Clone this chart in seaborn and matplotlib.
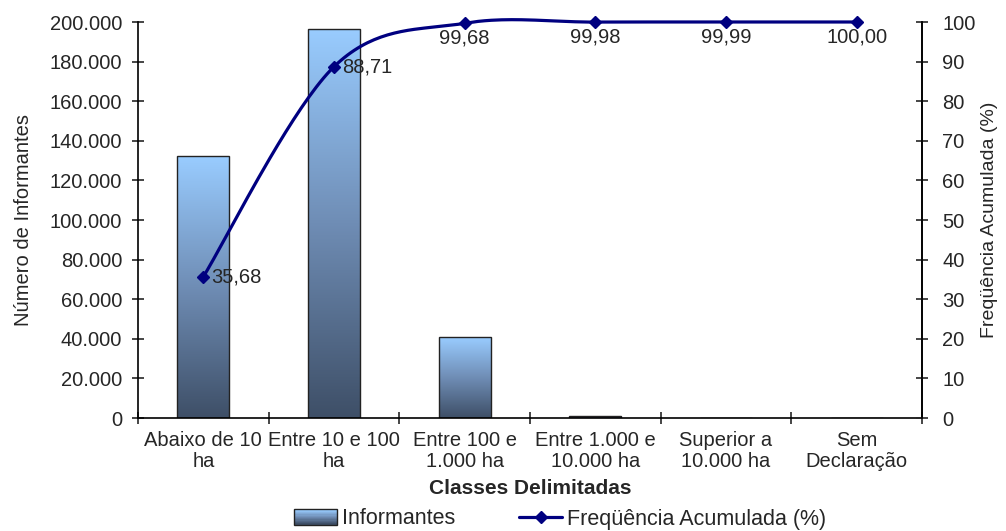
import numpy as np
import pandas as pd
import matplotlib
matplotlib.use("Agg")
import matplotlib.pyplot as plt
import matplotlib.colors as mcolors
from matplotlib.lines import Line2D
from matplotlib.patches import Patch, Rectangle
from matplotlib.legend_handler import HandlerBase
import seaborn as sns

# dados
classes = ["Abaixo de 10\nha", "Entre 10 e 100\nha", "Entre 100 e\n1.000 ha",
           "Entre 1.000 e\n10.000 ha", "Superior a\n10.000 ha", "Sem\nDeclaração"]
informantes = [132300, 196600, 40700, 1110, 37, 37]
freq_acum = [35.68, 88.71, 99.68, 99.98, 99.99, 100.00]
rotulos_freq = ["35,68", "88,71", "99,68", "99,98", "99,99", "100,00"]

sns.set_theme(style="ticks")
plt.rcParams['font.family'] = ['Liberation Sans', 'DejaVu Sans']

FS = 14.5
df = pd.DataFrame({"classe": classes, "informantes": informantes})
cmap = mcolors.LinearSegmentedColormap.from_list("grad", ["#3E4F67", "#6F8DB5", "#99CCFF"])


class HandlerGradiente(HandlerBase):
    # retângulo da legenda com faixas em degradê
    def create_artists(self, legend, orig_handle, xdescent, ydescent, width, height, fontsize, trans):
        n = 12
        arts = []
        for k in range(n):
            r = Rectangle((-xdescent, -ydescent + k * height / n), width, height / n,
                          facecolor=cmap(k / (n - 1)), edgecolor="none", transform=trans)
            arts.append(r)
        borda = Rectangle((-xdescent, -ydescent), width, height, facecolor="none",
                          edgecolor="#222222", lw=1.0, transform=trans)
        arts.append(borda)
        return arts


fig = plt.figure(figsize=(10.06, 5.31), dpi=100)
ax = fig.add_axes([138 / 1006, 1 - 418 / 531, (922 - 138) / 1006, (418 - 22) / 531])

sns.barplot(data=df, x="classe", y="informantes", ax=ax, width=0.4,
            color="#6A88AE", edgecolor="#222222", linewidth=1.0)

# gradiente nas barras
grad = np.linspace(0, 1, 256).reshape(-1, 1)
for p in ax.patches:
    x0, y0 = p.get_x(), p.get_y()
    w, h = p.get_width(), p.get_height()
    if h <= 0:
        continue
    p.set_facecolor("none")
    im = ax.imshow(grad, cmap=cmap, origin="lower", aspect="auto",
                   extent=[x0, x0 + w, y0, y0 + h], zorder=1.5)
    im.set_clip_path(p)
    p.set_zorder(2)

ax.set_xlim(-0.5, 5.5)
ax.set_ylim(0, 200000)
ax.set_yticks(np.arange(0, 200001, 20000))
ax.set_yticklabels([f"{int(v):,}".replace(",", ".") for v in np.arange(0, 200001, 20000)])
ax.set_xticks(range(len(classes)))
ax.set_xticklabels(classes, linespacing=1.15)
ax.set_xticks(np.arange(-0.5, 6, 1), minor=True)
ax.tick_params(axis="x", which="major", length=0, pad=9, labelsize=FS)
ax.tick_params(axis="x", which="minor", direction="inout", length=9, width=1.2)
ax.tick_params(axis="y", direction="inout", length=9, width=1.2, labelsize=FS, pad=7)
ax.set_xlabel("Classes Delimitadas", fontsize=15, fontweight="bold", labelpad=6)
ax.set_ylabel("Número de Informantes", fontsize=FS, labelpad=12)
for s in ["left", "bottom", "right"]:
    ax.spines[s].set_color("black")
    ax.spines[s].set_linewidth(1.2)
ax.spines["top"].set_visible(False)

# eixo secundário - linha suavizada (estilo Excel)
ax2 = ax.twinx()
ax2.set_ylim(0, 100)
ax2.set_yticks(np.arange(0, 101, 10))
ax2.tick_params(axis="y", direction="inout", length=9, width=1.2, labelsize=FS, pad=10)
ax2.set_ylabel("Freqüência Acumulada (%)", fontsize=14, labelpad=4)
for s in ["left", "bottom", "top"]:
    ax2.spines[s].set_visible(False)
ax2.spines["right"].set_color("black")
ax2.spines["right"].set_linewidth(1.2)

xs = np.arange(len(freq_acum), dtype=float)
ys = np.array(freq_acum)
P = np.column_stack([xs, ys])
Pext = np.vstack([P[0], P, P[-1]])
curve = []
t = np.linspace(0, 1, 40)
for i in range(len(P) - 1):
    p0, p1, p2, p3 = Pext[i], Pext[i + 1], Pext[i + 2], Pext[i + 3]
    c1 = p1 + (p2 - p0) / 6
    c2 = p2 - (p3 - p1) / 6
    seg = ((1 - t) ** 3)[:, None] * p1 + (3 * (1 - t) ** 2 * t)[:, None] * c1 \
        + (3 * (1 - t) * t ** 2)[:, None] * c2 + (t ** 3)[:, None] * p2
    curve.append(seg)
curve = np.vstack(curve)
ax2.plot(curve[:, 0], curve[:, 1], color="#000080", lw=2.3, clip_on=False, zorder=3)
ax2.plot(xs, ys, ls="none", marker="D", ms=6, color="#000080", clip_on=False, zorder=4)

for i, (x, y, lab) in enumerate(zip(xs, ys, rotulos_freq)):
    if i < 2:
        ax2.annotate(lab, (x, y), xytext=(6, 0), textcoords="offset points",
                     ha="left", va="center", fontsize=FS)
    else:
        ax2.annotate(lab, (x, y), xytext=(0, -4), textcoords="offset points",
                     ha="center", va="top", fontsize=FS)

barra_leg = Patch(facecolor="#6A88AE", edgecolor="#222222", label="Informantes")
linha_leg = Line2D([0], [0], color="#000080", lw=2.3, marker="D", ms=6,
                   label="Freqüência Acumulada (%)")
fig.legend(handles=[barra_leg, linha_leg], loc="center",
           bbox_to_anchor=(560 / 1006, 1 - 519 / 531), handler_map={barra_leg: HandlerGradiente()},
           ncol=2, frameon=False, fontsize=15.5, handlelength=2.0, columnspacing=3.0,
           handletextpad=0.2)

fig.savefig("out.png", dpi=100)
